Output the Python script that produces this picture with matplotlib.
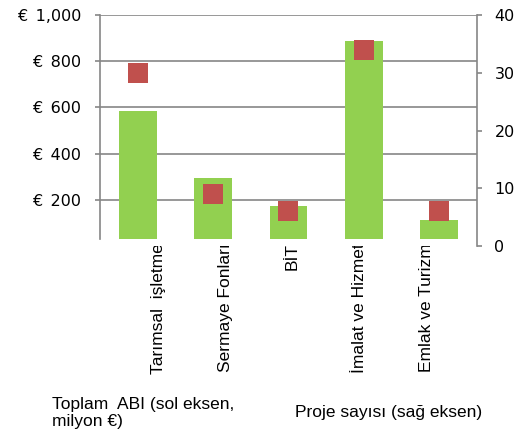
import numpy as np
import matplotlib
matplotlib.use("Agg")
import matplotlib.pyplot as plt

# chart data
sectors = ["Tarımsal  işletme", "Sermaye Fonları", "BİT", "İmalat ve Hizmet", "Emlak ve Turizm"]
total_abi = [585, 295, 175, 887, 113]      # left axis, million EUR
project_count = [30, 9, 6, 34, 6]          # right axis
left_ticks = [200, 400, 600, 800, 1000]
left_ticklabels = ["€\u2009 200", "€\u2009 400", "€\u2009 600", "€\u2009 800", "€\u2009 1,000"]
right_ticks = [0, 10, 20, 30, 40]

bar_green = "#92D050"
marker_red = "#C0504D"
grey = "#868686"
text_font = ["Liberation Sans", "DejaVu Sans"]

fig = plt.figure(figsize=(5.2, 4.37), dpi=100)
ax = fig.add_axes([0.1923, 0.437, 0.7250, 0.5286])
ax2 = ax.twinx()

x = np.arange(len(sectors))
ax.bar(x, total_abi, width=0.5, color=bar_green, zorder=2)
# white band along the bottom, the source clips the bars just above zero
ax.axhspan(0, 30, color="white", zorder=2.2, linewidth=0)
ax.set_xlim(-0.5, len(sectors) - 0.5)
ax.set_ylim(0, 1000)

ax2.plot(x, project_count, linestyle="none", marker="s", markersize=14.5,
         color=marker_red, markeredgewidth=0)
ax2.set_ylim(0, 40)

# gridlines on left axis
ax.set_yticks(left_ticks)
ax.set_yticklabels(left_ticklabels, fontsize=11.5, family="DejaVu Sans")
ax.yaxis.grid(True, color=grey, linewidth=1.2, zorder=0)
ax.set_axisbelow(True)
ax.tick_params(axis="y", length=3.6, width=1.2, color=grey, pad=10)

ax2.set_yticks(right_ticks)
ax2.set_yticklabels([str(t) for t in right_ticks], fontsize=11.5, family="DejaVu Sans")
ax2.tick_params(axis="y", length=3.6, width=1.2, color=grey, pad=9)

# category labels sit a bit off the bars, as in the source image
label_pos = np.arange(len(sectors)) * 0.89 + 0.27
ax.set_xticks(label_pos)
ax.set_xticklabels(sectors, rotation=90, va="top", ha="center",
                   fontsize=12.5, family=text_font)
ax.tick_params(axis="x", length=0, pad=-2)

for a in (ax, ax2):
    a.spines["top"].set_visible(False)
    a.spines["bottom"].set_visible(False)
ax.spines["right"].set_visible(False)
ax2.spines["left"].set_visible(False)
ax.spines["left"].set_color(grey)
ax.spines["left"].set_linewidth(1.2)
ax.spines["left"].set_bounds(30, 1000)
ax2.spines["right"].set_color(grey)
ax2.spines["right"].set_linewidth(1.2)

# legend text below the chart
fig.text(52 / 520, 1 - 397 / 437, "Toplam  ABI (sol eksen,\nmilyon €)",
         ha="left", va="top", fontsize=12.5, family=text_font, linespacing=1.2)
fig.text(295 / 520, 1 - 412 / 437, "Proje sayısı (sağ eksen)",
         ha="left", va="center", fontsize=12.5, family=text_font)

fig.savefig("out.png", dpi=100)
